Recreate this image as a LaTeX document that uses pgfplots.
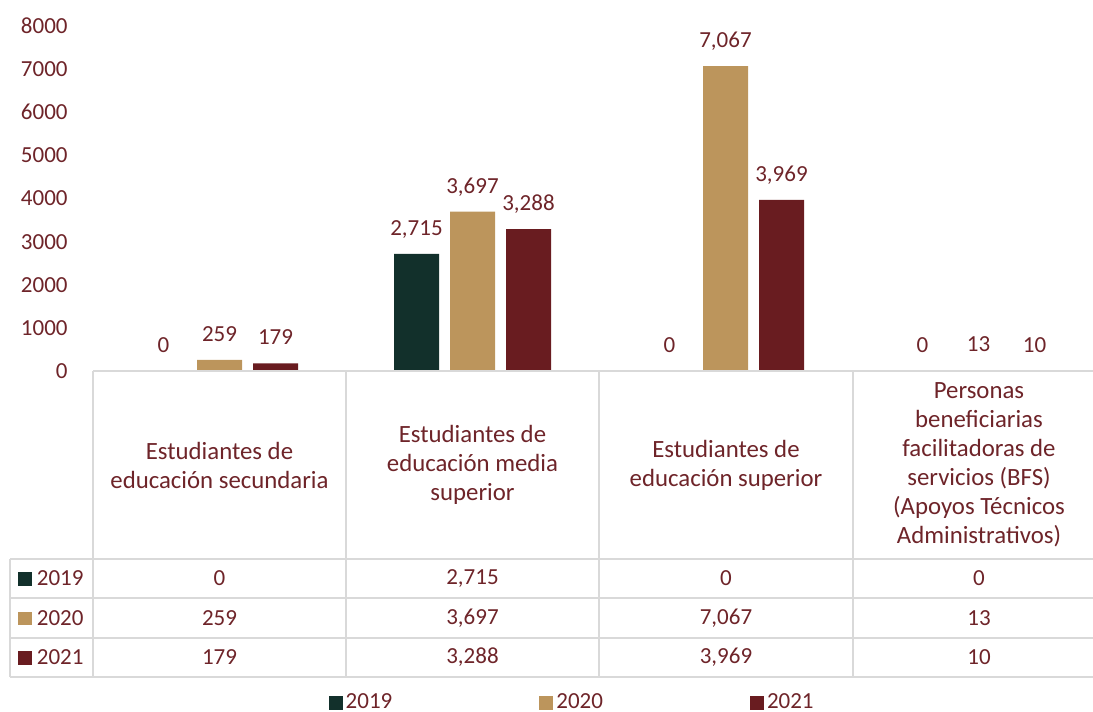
\documentclass[border=0pt]{standalone}
\usepackage{fontspec}
\setmainfont{Carlito}
\usepackage{pgfplots}
\usepackage{pgfplotstable}
\pgfplotsset{compat=1.18}
\definecolor{cA}{HTML}{12302B}
\definecolor{cB}{HTML}{BC955C}
\definecolor{cC}{HTML}{691C20}
\definecolor{txt}{HTML}{6E2429}
\definecolor{grd}{HTML}{D9D9D9}
\pgfplotstableread{
idx y2019 y2020 y2021
0 0 259 179
1 2715 3697 3288
2 0 7067 3969
3 0 13 10
}\datatab
\begin{document}
\begin{tikzpicture}[font=\fontsize{11.5}{14.5}\selectfont, text=txt]
\useasboundingbox (0,0) rectangle (546.5pt,-356pt);
\clip (0,0) rectangle (546.5pt,-356pt);
\begin{axis}[
 at={(46.5pt,-185.5pt)}, anchor=south west,
 scale only axis, width=506pt, height=172.5pt,
 xmin=-0.5, xmax=3.5, ymin=0, ymax=8000,
 ybar=5.5pt, bar width=22.5pt,
 hide x axis,
 y axis line style={draw=none},
 ytick={0,1000,...,8000},
 ytick style={draw=none},
 ytick pos=left,
 font=\fontsize{11.5}{14.5}\selectfont,
 /pgf/number format/assume math mode=true,
 yticklabel style={text=txt, inner sep=0pt, xshift=-12.5pt, /pgf/number format/1000 sep={}},
 clip=false,
 nodes near coords={\pgfmathprintnumber[assume math mode=true,1000 sep={,}]{\pgfplotspointmeta}},
 every node near coord/.append style={text=txt, anchor=base, inner sep=0pt, yshift=9.25pt},
 legend style={at={(0.474,-0.961)}, anchor=center, draw=none, fill=none, text=txt,
   font=\fontsize{11.5}{14.5}\selectfont, nodes={inner sep=1.5pt},
   /tikz/every even column/.append style={column sep=72pt}},
 legend columns=3,
 legend cell align=left,
 legend image code/.code={\fill[#1] (0pt,-3.5pt) rectangle (7pt,3.5pt);},
]
\addplot[fill=cA, draw=none] table[x=idx,y=y2019]{\datatab};
\addplot[fill=cB, draw=none] table[x=idx,y=y2020]{\datatab};
\addplot[fill=cC, draw=none] table[x=idx,y=y2021]{\datatab};
\legend{2019,2020,2021}
\end{axis}
\begin{scope}[x=0.5pt,y=-0.5pt]
\draw[grd, line width=1pt] (93,371) -- (1100,371);
\foreach \xx in {93,346,599,853} \draw[grd, line width=1pt] (\xx,371) -- (\xx,677);
\draw[grd, line width=1pt] (10,559) -- (10,677);
\foreach \yy in {559,598,638,677} \draw[grd, line width=1pt] (10,\yy) -- (1100,\yy);
\begin{scope}[every node/.append style={align=center, font=\fontsize{12.4}{14.5}\selectfont}]
\node at (219.5,465) {Estudiantes de\\educación secundaria};
\node at (472.5,465) {Estudiantes de\\educación media\\superior};
\node at (726,465) {Estudiantes de\\educación superior};
\node at (979,465) {Personas\\beneficiarias\\facilitadoras de\\servicios (BFS)\\(Apoyos Técnicos\\Administrativos)};
\end{scope}
\node[anchor=west, inner sep=0pt] at (18,578.5) {\textcolor{cA}{\rule{6.75pt}{6.75pt}}\hspace{2.5pt}2019};
\node[anchor=west, inner sep=0pt] at (18,618) {\textcolor{cB}{\rule{6.75pt}{6.75pt}}\hspace{2.5pt}2020};
\node[anchor=west, inner sep=0pt] at (18,657.5) {\textcolor{cC}{\rule{6.75pt}{6.75pt}}\hspace{2.5pt}2021};
\node at (219.5,578.5) {0};
\node at (472.5,578.5) {2,715};
\node at (726,578.5) {0};
\node at (979,578.5) {0};
\node at (219.5,618) {259};
\node at (472.5,618) {3,697};
\node at (726,618) {7,067};
\node at (979,618) {13};
\node at (219.5,657.5) {179};
\node at (472.5,657.5) {3,288};
\node at (726,657.5) {3,969};
\node at (979,657.5) {10};
\end{scope}
\end{tikzpicture}
\end{document}
